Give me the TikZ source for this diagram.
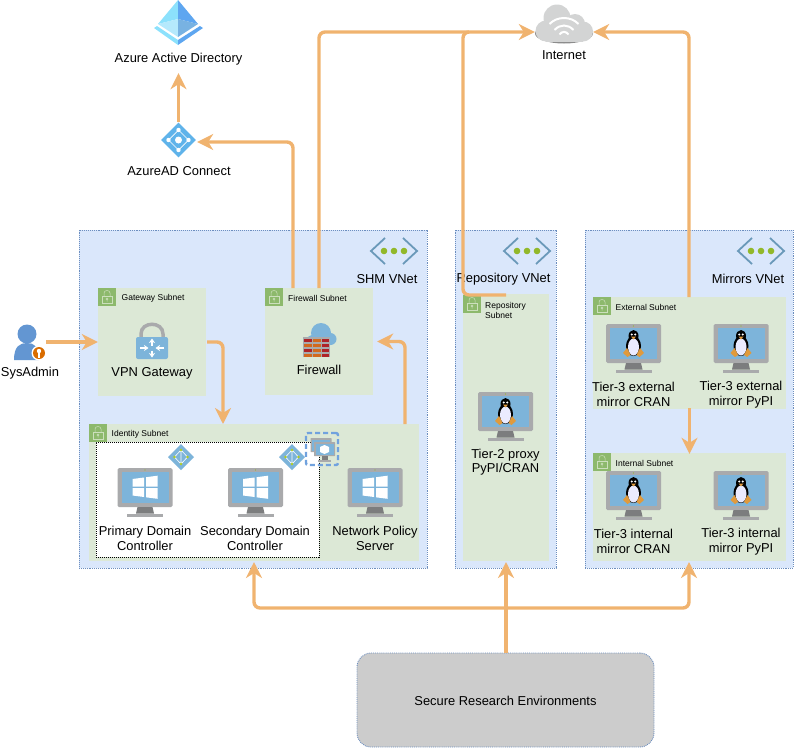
\documentclass[tikz,border=0pt]{standalone}
\usepackage{fontspec}
\usepackage{xcolor}
\setmainfont{Liberation Sans}
\usetikzlibrary{positioning, arrows.meta, shapes.geometric}

\definecolor{linkorange}{HTML}{F0B36F}
\definecolor{vnetblue}{HTML}{DAE7FB}
\definecolor{vnetedge}{HTML}{6C8EBF}
\definecolor{subnetgreen}{HTML}{DCE8D6}
\definecolor{lockgreen}{HTML}{8DB96C}
\definecolor{screenblue}{HTML}{7DB4DA}
\definecolor{framegrey}{HTML}{A9AAAC}
\definecolor{standgrey}{HTML}{7C7D7E}
\definecolor{dotgreen}{HTML}{92B82A}
\definecolor{iconblue}{HTML}{5FB3EA}
\definecolor{userblue}{HTML}{6396D2}
\definecolor{cloudgrey}{HTML}{D3D4D4}
\definecolor{brickred}{HTML}{AE2328}
\definecolor{brickorange}{HTML}{D2691E}
\definecolor{tuxorange}{HTML}{E09A3C}
\definecolor{aadtopleft}{HTML}{8CE1FC}
\definecolor{aadtopright}{HTML}{5EA6F0}
\definecolor{aadlowleft}{HTML}{B5E9FC}
\definecolor{aadlowright}{HTML}{78B2E2}

\tikzset{
    vnet/.style={draw=vnetedge, densely dotted, line width=0.9pt, fill=vnetblue, inner sep=0pt},
    subnet/.style={fill=subnetgreen, inner sep=0pt},
    lbl/.style={font=\fontsize{12.9}{14.5}\selectfont, align=center, inner sep=0pt},
    small/.style={font=\fontsize{8.5}{10}\selectfont, align=left, anchor=west, inner sep=0pt},
    link/.style={draw=linkorange, line width=3.4pt, rounded corners=6pt, -{Stealth[length=16pt, width=16pt, inset=5pt]}},
    plainlink/.style={draw=linkorange, line width=3.4pt, rounded corners=6pt},
    screen/.pic={
        \fill[framegrey, rounded corners=1.5pt] (-27.5,0) rectangle (27.5,39);
        \fill[screenblue] (-23.5,4) rectangle (23.5,35);
        \fill[standgrey] (-7.5,39) -- (7.5,39) -- (9,45.5) -- (-9,45.5) -- cycle;
        \fill[framegrey] (-18,45.5) rectangle (18,49);
        \fill[dotgreen] (0,2) circle (0.6);
    },
    winpc/.pic={
        \pic {screen};
        \fill[white] (-12.5,11) -- (-1,9.5) -- (-1,18.5) -- (-12.5,18.5) -- cycle;
        \fill[white] (1,9.2) -- (12.5,7.7) -- (12.5,18.5) -- (1,18.5) -- cycle;
        \fill[white] (-12.5,20) -- (-1,20) -- (-1,29) -- (-12.5,27.5) -- cycle;
        \fill[white] (1,20) -- (12.5,20) -- (12.5,30.8) -- (1,29.3) -- cycle;
    },
    linuxpc/.pic={
        \pic {screen};
        \fill[black] (0,12) ellipse [x radius=5, y radius=6];
        \fill[black] (0,22) ellipse [x radius=7.5, y radius=10];
        \fill[white!92!blue] (0,23) ellipse [x radius=5.5, y radius=8.5];
        \fill[white] (-1.7,10.5) circle (1.1);
        \fill[white] (1.7,10.5) circle (1.1);
        \fill[tuxorange] (-2.5,12.5) -- (2.5,12.5) -- (0,15.5) -- cycle;
        \fill[tuxorange] (-10.5,29) -- (-6.5,24) -- (-3,31) -- (-6,33) -- cycle;
        \fill[tuxorange] (10.5,29) -- (6.5,24) -- (3,31) -- (6,33) -- cycle;
    },
    padlock/.pic={
        \fill[lockgreen] (0,0) rectangle (18,18);
        \draw[white!55!lockgreen, line width=0.5pt] (4,8) rectangle (14,15.5);
        \draw[white!55!lockgreen, line width=0.5pt] (6,8) -- (6,5) .. controls (6,1.7) and (12,1.7) .. (12,5) -- (12,8);
        \draw[white!55!lockgreen, line width=0.5pt] (9,11) circle (1) (9,12) -- (9,13.5);
    },
    vneticon/.pic={
        \draw[screenblue!85!black, line width=1.8pt] (-9,-13) -- (-23,0) -- (-9,13);
        \draw[screenblue!85!black, line width=1.8pt] (9,-13) -- (23,0) -- (9,13);
        \fill[dotgreen] (-10,0) circle (3.3);
        \fill[dotgreen] (0,0) circle (3.3);
        \fill[dotgreen] (10,0) circle (3.3);
    },
    peeringicon/.pic={
        \fill[screenblue] (0,-13) -- (13,0) -- (0,13) -- (-13,0) -- cycle;
        \draw[white, line width=0.6pt] (0,-7) -- (0,7) (0,-7) -- (-6.5,0) -- (0,7) -- (6.5,0) -- cycle;
        \fill[dotgreen!70!yellow] (0,-7) circle (1.3);
        \fill[dotgreen!70!yellow] (-6.5,0) circle (1.3);
        \fill[dotgreen!70!yellow] (6.5,0) circle (1.3);
        \fill[dotgreen!70!yellow] (0,7) circle (1.3);
    },
    smallpc/.pic={
        \fill[framegrey, rounded corners=0.5pt] (-10.5,0) rectangle (10.5,14);
        \fill[screenblue] (-9,1.5) rectangle (9,12.5);
    },
}

\begin{document}
\begin{tikzpicture}[x=1pt, y=-1pt]
    \useasboundingbox (0,0) rectangle (794,750);

    \node[vnet, minimum width=348, minimum height=338] (shm) at (253,399) {};
    \node[vnet, minimum width=101, minimum height=338] (repo) at (505.5,399) {};
    \node[vnet, minimum width=208, minimum height=338] (mirrors) at (689,399) {};

    \node[subnet, minimum width=108, minimum height=108] (gateway) at (152,342) {};
    \node[subnet, minimum width=108, minimum height=107] (firewall) at (319,341.5) {};
    \node[subnet, minimum width=330, minimum height=137] (identity) at (254,492.5) {};
    \node[subnet, minimum width=86, minimum height=267] (reposub) at (506,427.5) {};
    \node[subnet, minimum width=193, minimum height=112] (external) at (689.5,353) {};
    \node[subnet, minimum width=193, minimum height=108] (internal) at (689.5,507) {};
    \node[draw=black, densely dotted, line width=1pt, fill=white, minimum width=223, minimum height=115, inner sep=0pt] (dcgroup) at (207.5,499.5) {};
    \node[draw=vnetedge, densely dotted, line width=0.9pt, fill=black!20, rounded corners=14pt, minimum width=297, minimum height=94, inner sep=0pt] (sre) at (505.5,700) {};
    \node[lbl] (sretxt) at (505.5,701) {Secure Research Environments};

    \pic at (98,288) {padlock};
    \pic at (265,288) {padlock};
    \pic at (89,424) {padlock};
    \pic at (463,295) {padlock};
    \pic at (593,297) {padlock};
    \pic at (593,453) {padlock};

    \node[small] (gatewaytxt) at (121.5,298) {Gateway Subnet};
    \node[small] (firewalltxt) at (288,298) {Firewall Subnet};
    \node[small] (identitytxt) at (111.5,434) {Identity Subnet};
    \node[small] (repotxt) at (485,310) {Repository\\Subnet};
    \node[small] (externaltxt) at (615.5,307) {External Subnet};
    \node[small] (internaltxt) at (615.5,463) {Internal Subnet};

    \pic at (394,251) {vneticon};
    \pic at (527,251) {vneticon};
    \pic at (761,251) {vneticon};
    \node[lbl] (shmtxt) at (387,279) {SHM VNet};
    \node[lbl] (repotitle) at (503.5,279) {Repository VNet};
    \node[lbl] (mirrorstxt) at (748,279) {Mirrors VNet};

    \pic at (145,468) {winpc};
    \pic at (255.5,468) {winpc};
    \pic at (375,468) {winpc};
    \pic at (505.5,392) {linuxpc};
    \pic at (633.5,324) {linuxpc};
    \pic at (741,324) {linuxpc};
    \pic at (633.5,471) {linuxpc};
    \pic at (741,471) {linuxpc};

    \node[lbl] (primary) at (145,538.5) {Primary Domain\\Controller};
    \node[lbl] (secondary) at (255,538.5) {Secondary Domain\\Controller};
    \node[lbl] (nps) at (375,538.5) {Network Policy\\Server};
    \node[lbl] (proxy) at (505.5,462) {Tier-2 proxy\\PyPI/CRAN};
    \node[lbl] (extcran) at (633.5,394.5) {Tier-3 external\\mirror CRAN};
    \node[lbl] (extpypi) at (741,394.5) {Tier-3 external\\mirror PyPI};
    \node[lbl] (intcran) at (633.5,541.5) {Tier-3 internal\\mirror CRAN};
    \node[lbl] (intpypi) at (741,541.5) {Tier-3 internal\\mirror PyPI};

    \pic at (181,457) {peeringicon};
    \pic at (292,457) {peeringicon};
    \node[draw=screenblue!90!blue, line width=2.4pt, dash pattern=on 5pt off 3pt, rounded corners=2pt, minimum width=32, minimum height=32, inner sep=0pt] (avset) at (322,449) {};
    \pic at (321,438) {smallpc};
    \pic at (324.5,442) {smallpc};
    \fill[white] (324.5,445) -- (329,447) -- (329,452) -- (324.5,454) -- (320,452) -- (320,447) -- cycle;
    \fill[standgrey] (321.5,456) rectangle (327.5,461);
    \fill[framegrey] (318,460) rectangle (331,461.5);

    \fill[userblue] (27,334) circle (9.5);
    \fill[userblue] (14,360) .. controls (14,346) and (20,343) .. (27,343) .. controls (34,343) and (39,346) .. (39,360) -- cycle;
    \fill[white] (39,353) circle (7.5);
    \fill[orange!85!black] (39,353) circle (6);
    \fill[white] (39,351) circle (2.2);
    \fill[white] (38.3,351) rectangle (39.7,357.5);
    \node[minimum width=32, minimum height=30, inner sep=0pt] (sysadmin) at (30,342) {};
    \node[lbl] (sysadmintxt) at (30,373.5) {SysAdmin};

    \draw[framegrey, line width=3.5pt] (141,338) -- (141,334) .. controls (141,321) and (163,321) .. (163,334) -- (163,338);
    \fill[screenblue, rounded corners=2pt] (136,337) rectangle (168,359);
    \draw[white, line width=1.6pt, -{Stealth[length=4.5pt, width=6pt]}] (152,345.5) -- (152,338.5);
    \draw[white, line width=1.6pt, -{Stealth[length=4.5pt, width=6pt]}] (152,350.5) -- (152,357.5);
    \draw[white, line width=1.6pt, -{Stealth[length=4.5pt, width=6pt]}] (140,348) -- (148.5,348);
    \draw[white, line width=1.6pt, -{Stealth[length=4.5pt, width=6pt]}] (164,348) -- (155.5,348);
    \node[lbl] (vpntxt) at (152,373.5) {VPN Gateway};

    \fill[screenblue] (321,333) circle (10);
    \fill[screenblue] (330.5,339) circle (6);
    \fill[screenblue] (312,340) circle (5);
    \fill[framegrey] (303,337) rectangle (330,357);
    \foreach \row/\first in {339/brickred, 344/brickorange, 349/brickred, 353.5/brickorange} {
        \fill[\first] (304,\row) rectangle (312,\row+3.3);
        \fill[brickorange] (313,\row) rectangle (321,\row+3.3);
        \fill[brickred] (322,\row) rectangle (329,\row+3.3);
    }
    \node[lbl] (firewalltitle) at (319,370) {Firewall};

    \fill[aadtopleft] (178,0) -- (158,24) -- (178,19) -- cycle;
    \fill[aadtopright] (178,0) -- (198,24) -- (178,19) -- cycle;
    \fill[aadlowleft] (158,24) -- (178,19) -- (178,37) -- cycle;
    \fill[aadlowright] (198,24) -- (178,19) -- (178,37) -- cycle;
    \fill[aadtopleft] (154,28) -- (157,26) -- (178,40) -- (178,45) -- cycle;
    \fill[aadtopright] (203,28) -- (200,26) -- (178,40) -- (178,45) -- cycle;
    \node[lbl, minimum height=27] (aad) at (178.5,59.5) {Azure Active Directory};

    \node[diamond, aspect=1, fill=iconblue, minimum width=35, minimum height=35, inner sep=0pt] (connect) at (178.5,140) {};
    \fill[white] (178.5,140) circle (3.5);
    \fill[white] (178.5,130) circle (2.2);
    \fill[white] (178.5,150) circle (2.2);
    \fill[white] (168.5,140) circle (2.2);
    \fill[white] (188.5,140) circle (2.2);
    \draw[white, line width=0.7pt] (178.5,130) -- (168.5,140) -- (178.5,150) -- (188.5,140) -- cycle;
    \node[lbl] (connecttxt) at (179,171) {AzureAD Connect};

    \fill[black!45] (564,33.5) ellipse [x radius=29, y radius=10];
    \fill[cloudgrey] (557,18) circle (13.5);
    \fill[cloudgrey] (575,24) circle (10);
    \fill[cloudgrey] (546,31) circle (10.5);
    \fill[cloudgrey] (583,31.5) circle (10);
    \fill[cloudgrey] (546,22) rectangle (583,41.5);
    \draw[white, line width=2pt] (549.5,24) .. controls (557,16) and (571,16) .. (578.5,24);
    \draw[white, line width=2pt] (554.5,30) .. controls (560,24) and (568,24) .. (573.5,30);
    \draw[white, line width=2pt] (559.5,34.5) .. controls (562,31) and (566,31) .. (568.5,34.5);
    \node[minimum width=58, minimum height=20, inner sep=0pt] (cloud) at (564,32) {};
    \node[lbl] (internet) at (564,55) {Internet};

    \coordinate (fwconnect) at (293,288);
    \coordinate (fwinternet) at (319,288);
    \coordinate (reposource) at (506,295);
    \coordinate (repoelbow) at (463,295);
    \coordinate (repotop) at (463,32);
    \coordinate (mirrorsout) at (689,297);
    \coordinate (identityin) at (223,424);
    \coordinate (npsout) at (405,424);
    \coordinate (srefork) at (506,608);
    \coordinate (shmin) at (254,562);
    \coordinate (repoin) at (506,562);
    \coordinate (mirrorsin) at (689,562);

    \draw[link] (connect.north) -- (aad.south);
    \draw[link] (fwconnect) |- ([yshift=-2pt, xshift=1pt]connect.east);
    \draw[link] (fwinternet) |- (cloud.west);
    \draw[plainlink] (reposource) -- (repoelbow) -- (repotop) -- ++(6,0);
    \draw[link] (mirrorsout) |- (cloud.east);
    \draw[link] ([yshift=1pt]external.south) -- ([yshift=-1pt]internal.north);
    \draw[link] (sysadmin.east) -- (gateway.west);
    \draw[link] ([xshift=1pt]gateway.east) -| (identityin);
    \draw[link, shorten >=4pt] (npsout) |- (firewall.east);
    \draw[plainlink, rounded corners=0pt] (sre.north -| srefork) -- (srefork);
    \draw[link] (srefork) -- (repoin);
    \draw[link] (srefork) -| (shmin);
    \draw[link] (srefork) -| (mirrorsin);
\end{tikzpicture}
\end{document}
